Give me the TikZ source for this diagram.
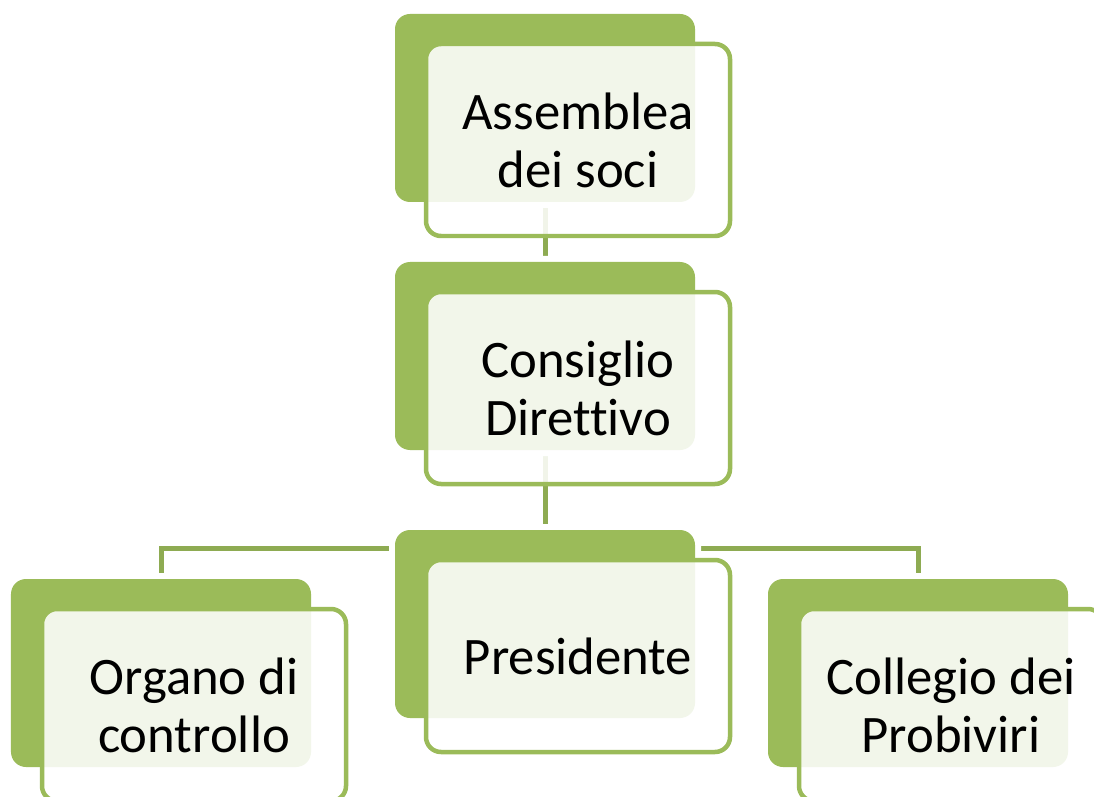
\documentclass[tikz,border=0pt]{standalone}
\usepackage{fontspec}
\setmainfont[Ligatures=NoCommon]{Carlito}
\usepackage{xcolor}
\definecolor{colorBox}{RGB}{155,187,89}
\definecolor{colorLink}{RGB}{142,171,82}
\usetikzlibrary{positioning, backgrounds}
\tikzset{
  back/.style={rectangle, rounded corners=0.3cm, fill=colorBox, outer sep=0pt,
    minimum width=6cm, minimum height=3.76cm,
    preaction={draw=white, line width=0.24cm}},
  front/.style={rectangle, rounded corners=0.3cm, draw=colorBox, line width=0.09cm,
    fill=white, fill opacity=0.88, text opacity=1, outer sep=0pt,
    minimum width=6.08cm, minimum height=3.84cm, inner sep=0pt, align=center,
    font=\fontsize{30}{33}\selectfont},
  link/.style={draw=colorLink, line width=0.1cm}
}

\begin{document}
\begin{tikzpicture}
\useasboundingbox (0,0) rectangle (21.88,-15.94);
\clip (0,0) rectangle (21.88,-15.94);
% back boxes
\node[back] (a0) at (10.9,-2.16) {};
\node[back, below=1.2cm of a0] (a1) {};
\node[back, below=1.6cm of a1] (a2) {};
\node[back, left=1.68cm of a2, yshift=-0.98cm] (a3) {};
\node[back, right=1.46cm of a2, yshift=-0.98cm] (a4) {};
\coordinate[below=0.36cm of a2.north] (hub);
% connectors
\begin{scope}[on background layer]
\draw[link] (a0) -- (a1);
\draw[link] (a1) -- (a2);
\draw[link] (hub) -| (a3);
\draw[link] (hub) -| (a4);
\end{scope}
% front boxes
\node[front, below right=0.6cm and 0.62cm of a0.north west] (f0) {Assemblea\\dei soci};
\node[front, below right=0.6cm and 0.62cm of a1.north west] (f1) {Consiglio\\Direttivo};
\node[front, below right=0.6cm and 0.62cm of a2.north west] (f2) {Presidente};
\node[front, below right=0.6cm and 0.62cm of a3.north west] (f3) {Organo di\\controllo};
\node[front, below right=0.6cm and 0.62cm of a4.north west] (f4) {Collegio dei\\Probiviri};
\end{tikzpicture}
\end{document}
